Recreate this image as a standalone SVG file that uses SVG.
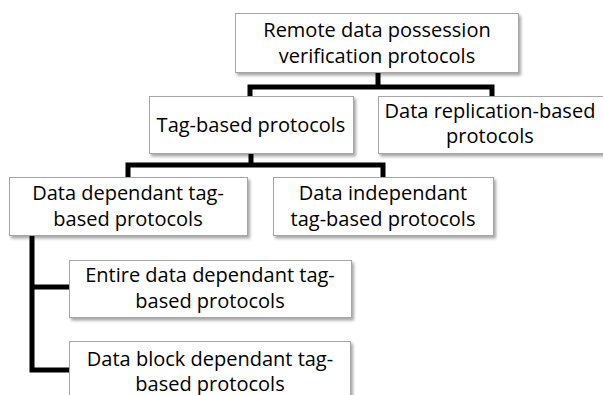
<svg xmlns="http://www.w3.org/2000/svg" width="603" height="395" viewBox="0 0 603 395">
<style>
.box{fill:#fff;stroke:#a6a6a6;stroke-width:1;filter:url(#sh)}
.t{font-family:"Open Sans","Liberation Sans",sans-serif;font-size:20px;fill:#000;text-anchor:middle}
.c{fill:none;stroke:#000;stroke-width:5;stroke-linejoin:miter;stroke-linecap:butt}
</style>
<defs>
<filter id="sh" x="-10%" y="-10%" width="130%" height="140%">
<feDropShadow dx="2" dy="2.5" stdDeviation="1.5" flood-color="#000" flood-opacity="0.35"/>
</filter>
</defs>
<rect width="603" height="395" fill="#fff"/>
<g id="connectors">
<path class="c" d="M378 72V87M250 97V87H492V97"/>
<path class="c" d="M251 153V165M128 177V165H383V177"/>
<path class="c" d="M32 235V370H69M32 287H69"/>
</g>
<g id="root">
<rect class="box" x="235.5" y="13.5" width="283" height="59"/>
<text class="t" x="377" y="37">Remote data possession</text>
<text class="t" x="377" y="63">verification protocols</text>
</g>
<g id="tag">
<rect class="box" x="149.5" y="96.5" width="204" height="57"/>
<text class="t" x="251" y="132">Tag-based protocols</text>
</g>
<g id="replication">
<rect class="box" x="378.5" y="96.5" width="228" height="57"/>
<text class="t" x="490" y="118">Data replication-based</text>
<text class="t" x="490" y="143">protocols</text>
</g>
<g id="dependant">
<rect class="box" x="9.5" y="177.5" width="238" height="58"/>
<text class="t" x="128" y="200">Data dependant tag-</text>
<text class="t" x="128" y="226">based protocols</text>
</g>
<g id="independant">
<rect class="box" x="273.5" y="177.5" width="220" height="58"/>
<text class="t" x="383" y="200">Data independant</text>
<text class="t" x="383" y="226">tag-based protocols</text>
</g>
<g id="entire">
<rect class="box" x="69.5" y="260.5" width="282" height="57"/>
<text class="t" x="210" y="282">Entire data dependant tag-</text>
<text class="t" x="210" y="308">based protocols</text>
</g>
<g id="block">
<rect class="box" x="69.5" y="341.5" width="281" height="60"/>
<text class="t" x="210" y="366">Data block dependant tag-</text>
<text class="t" x="210" y="391">based protocols</text>
</g>
</svg>
